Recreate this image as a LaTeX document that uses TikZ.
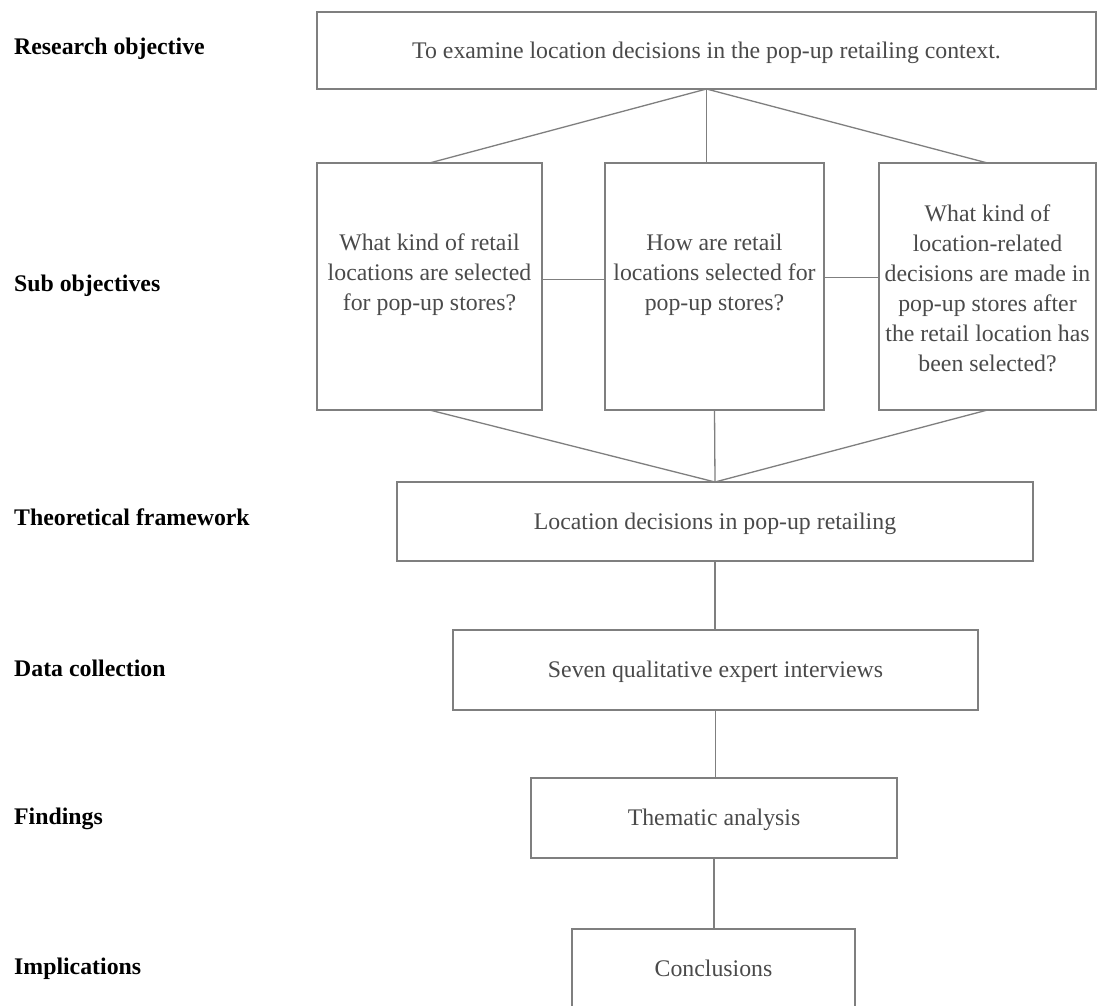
\documentclass[tikz,border=0pt]{standalone}
\usepackage{fontspec}
\setmainfont{Liberation Serif}
\definecolor{edge}{HTML}{7F7F7F}
\definecolor{ink}{HTML}{4A4A4A}
\tikzset{
  box/.style={draw=edge, line width=1.4pt, rectangle, inner sep=0pt, outer sep=0pt,
    text=ink, font=\fontsize{23.8}{30}\selectfont, text height=15.7pt, text depth=0pt},
  qbox/.style={draw=edge, line width=1.4pt, rectangle, inner sep=0pt, outer sep=0pt},
  qtext/.style={text=ink, align=center, inner sep=0pt, font=\fontsize{23.8}{30}\selectfont},
  link/.style={draw=edge, line width=1.3pt},
  rowlabel/.style={anchor=base west, inner sep=0pt, font=\fontsize{23.8}{30}\selectfont\bfseries}
}
\begin{document}
\begin{tikzpicture}[x=1pt,y=-1pt]
\useasboundingbox (0,0) rectangle (1097,1006);
\fill[white] (0,0) rectangle (1097,1006);

% row labels
\node[rowlabel] (l1) at (14,55) {Research objective};
\node[rowlabel] (l2) at (14,291) {Sub objectives};
\node[rowlabel] (l3) at (14,525) {Theoretical framework};
\node[rowlabel] (l4) at (14,676) {Data collection};
\node[rowlabel] (l5) at (14,824) {Findings};
\node[rowlabel] (l6) at (14,974) {Implications};

% research objective
\node[box, minimum width=779pt, minimum height=77pt] (top) at (706.5,50.5)
  {To examine location decisions in the pop-up retailing context.};

% sub objectives
\node[qbox, minimum width=225pt, minimum height=247pt] (s1) at (429.5,286.5) {};
\node[qbox, minimum width=219pt, minimum height=247pt] (s2) at (714.5,286.5) {};
\node[qbox, minimum width=217pt, minimum height=247pt] (s3) at (987.5,286.5) {};
\node[qtext] (s1t) at ([yshift=12pt]s1.center)
  {What kind of retail\\locations are selected\\for pop-up stores?};
\node[qtext] (s2t) at ([yshift=12pt]s2.center)
  {How are retail\\locations selected for\\pop-up stores?};
\node[qtext] (s3t) at ([yshift=-2pt]s3.center)
  {What kind of\\location-related\\decisions are made in\\pop-up stores after\\the retail location has\\been selected?};

% lower chain
\node[box, minimum width=636pt, minimum height=79pt] (th) at (715,521.5)
  {Location decisions in pop-up retailing};
\node[box, minimum width=525pt, minimum height=80pt] (dc) at (715.5,670)
  {Seven qualitative expert interviews};
\node[box, minimum width=366pt, minimum height=80pt] (ta) at (714,818)
  {Thematic analysis};
\node[box, minimum width=283pt, minimum height=80pt] (cn) at (713.5,969)
  {Conclusions};

% connectors
\draw[link] (top.south) -- (s1.north);
\draw[link] (top.south) -- (top.south |- s2.north);
\draw[link] (top.south) -- (s3.north);
\draw[link] ([yshift=7pt]s1.east) -- ([yshift=7pt]s1.east -| s2.west);
\draw[link] ([yshift=9pt]s2.east) -- ([yshift=9pt]s2.east -| s3.west);
\draw[link] (s1.south) -- (th.north);
\draw[link] (s2.south) -- (th.north);
\draw[link] (s3.south) -- (th.north);
\draw[link] (th.south) -- (th.south |- dc.north);
\draw[link] (dc.south) -- (dc.south |- ta.north);
\draw[link] (ta.south) -- (ta.south |- cn.north);
\end{tikzpicture}
\end{document}
